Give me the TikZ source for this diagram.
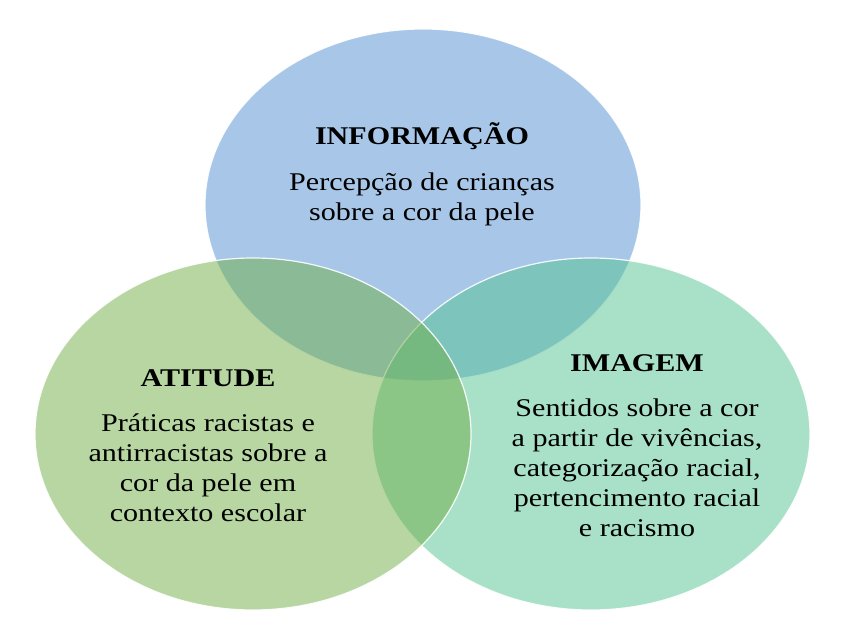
\documentclass[tikz,border=0pt]{standalone}
\usepackage{fontspec}
\setmainfont{Liberation Serif}
\usepackage{tikz}
\usetikzlibrary{positioning}
\definecolor{infoblue}{RGB}{81,143,209}
\definecolor{atitgreen}{RGB}{111,173,69}
\definecolor{imagteal}{RGB}{81,193,145}

\begin{document}
\begin{tikzpicture}[
    x=1pt, y=1pt,
    circ/.style={fill opacity=0.5, draw=white, draw opacity=0.9, line width=1.2pt},
    lab/.style={align=center, inner sep=0pt, xscale=1.18, transform shape,
        font=\fontsize{25.5}{30}\selectfont},
]
    \useasboundingbox (0,0) rectangle (842,643);
    % the three sets, drawn bottom to top
    \path[circ, fill=infoblue] (423,438) ellipse (218 and 176);
    \path[circ, fill=imagteal] (591,209) ellipse (219 and 176);
    \path[circ, fill=atitgreen] (253,209) ellipse (218 and 176);
    % labels
    \node[lab] (info) at (422,469) {{\bfseries INFORMAÇÃO}\\[16pt]
        Percepção de crianças\\sobre a cor da pele};
    \node[lab] (atit) at (208,197) {{\bfseries ATITUDE}\\[15pt]
        Práticas racistas e\\antirracistas sobre a\\cor da pele em\\contexto escolar};
    \node[lab] (imag) at (637,197) {{\bfseries IMAGEM}\\[15pt]
        Sentidos sobre a cor\\a partir de vivências,\\categorização racial,\\pertencimento racial\\e racismo};
\end{tikzpicture}
\end{document}
